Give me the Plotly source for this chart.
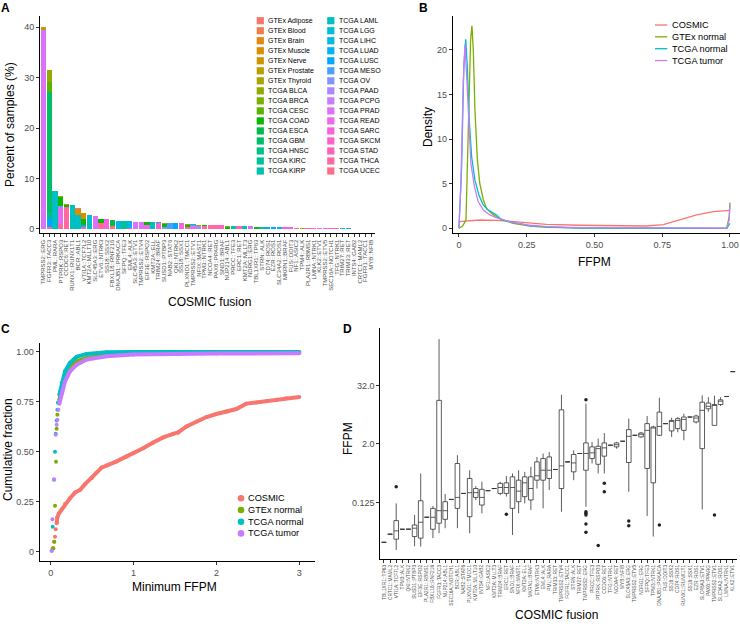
import math
import plotly.graph_objects as go

W, H = 740, 628
FONT = "Liberation Sans, Arial, sans-serif"

# ---------------- Panel A data ----------------
tissues = ["GTEx Adipose", "GTEx Blood", "GTEx Brain", "GTEx Muscle", "GTEx Nerve", "GTEx Prostate",
           "GTEx Thyroid", "TCGA BLCA", "TCGA BRCA", "TCGA CESC", "TCGA COAD", "TCGA ESCA", "TCGA GBM",
           "TCGA HNSC", "TCGA KIRC", "TCGA KIRP", "TCGA LAML", "TCGA LGG", "TCGA LIHC", "TCGA LUAD",
           "TCGA LUSC", "TCGA MESO", "TCGA OV", "TCGA PAAD", "TCGA PCPG", "TCGA PRAD", "TCGA READ",
           "TCGA SARC", "TCGA SKCM", "TCGA STAD", "TCGA THCA", "TCGA UCEC"]

a_fusions = ["TMPRSS2::ERG", "FGFR3::TACC3", "PML::RARA", "PTPRK::RSPO3", "CCDC6::RET", "RUNX1::RUNX1T1",
             "BCR::ABL1", "VTI1A::TCF7L2", "KMT2A::MLLT10", "SLC45A3::ERG", "ETV6::NTRK3", "SS18::SSX2",
             "FBXL18::RNF216", "DNAJB1::PRKACA", "SFPQ::TFE3", "EML4::ALK", "SLC45A3::ETV1", "TMPRSS2::ETV4",
             "EIF3E::RSPO2", "KMT2A::ELL", "TRIM24::BRAF", "SUSD1::PTBP3", "NAB2::STAT6", "QKI::NTRK2",
             "SS18::SSX1", "PLXND1::TMCC1", "TMPRSS2::ETV1", "NFIX::MAST1", "TPM3::NTRK1", "NCOA4::RET",
             "PAX8::PPARG", "SND1::BRAF", "NUP214::ABL1", "PRCC::TFE3", "ERC1::RET", "KMT2A::MLLT3",
             "NDRG1::ERG", "TBL1XR1::TP63", "STRN::ALK", "CD74::ROS1", "EZR::ROS1", "SLC34A2::ROS1",
             "MKRN1::BRAF", "FUS::DDIT3", "NF1::ASIC2", "TPM4::ALK", "PLA2R1::RBMS1", "LMNA::NTRK1",
             "KLK2::ETV1", "TMPRSS2::ETV5", "SEC16A::NOTCH1", "TFG::NTRK1", "TRIM27::RET", "TRIM33::RET",
             "INTS4::GAB2", "CRTC1::MAML2", "FGFR1::TACC1", "MYB::NFIB"]

seg_fusion = ["TMPRSS2::ERG", "TMPRSS2::ERG",
              "FGFR3::TACC3", "FGFR3::TACC3", "FGFR3::TACC3", "FGFR3::TACC3", "FGFR3::TACC3", "FGFR3::TACC3", "FGFR3::TACC3",
              "PML::RARA",
              "PTPRK::RSPO3", "PTPRK::RSPO3", "PTPRK::RSPO3", "PTPRK::RSPO3", "PTPRK::RSPO3",
              "CCDC6::RET", "CCDC6::RET", "CCDC6::RET",
              "RUNX1::RUNX1T1",
              "BCR::ABL1", "BCR::ABL1", "BCR::ABL1",
              "VTI1A::TCF7L2", "VTI1A::TCF7L2", "VTI1A::TCF7L2", "VTI1A::TCF7L2",
              "KMT2A::MLLT10", "SLC45A3::ERG",
              "ETV6::NTRK3", "ETV6::NTRK3", "ETV6::NTRK3",
              "SS18::SSX2",
              "FBXL18::RNF216", "FBXL18::RNF216",
              "DNAJB1::PRKACA", "SFPQ::TFE3",
              "EML4::ALK", "EML4::ALK",
              "SLC45A3::ETV1", "TMPRSS2::ETV4",
              "EIF3E::RSPO2", "EIF3E::RSPO2",
              "KMT2A::ELL",
              "TRIM24::BRAF", "TRIM24::BRAF",
              "SUSD1::PTBP3", "SUSD1::PTBP3", "SUSD1::PTBP3",
              "NAB2::STAT6", "QKI::NTRK2", "SS18::SSX1",
              "PLXND1::TMCC1", "PLXND1::TMCC1", "PLXND1::TMCC1", "PLXND1::TMCC1",
              "TMPRSS2::ETV1", "TMPRSS2::ETV1", "TMPRSS2::ETV1",
              "NFIX::MAST1", "NFIX::MAST1",
              "TPM3::NTRK1", "TPM3::NTRK1",
              "NCOA4::RET", "PAX8::PPARG", "SND1::BRAF",
              "NUP214::ABL1", "NUP214::ABL1",
              "PRCC::TFE3", "ERC1::RET", "KMT2A::MLLT3", "NDRG1::ERG", "TBL1XR1::TP63", "STRN::ALK",
              "CD74::ROS1", "EZR::ROS1", "SLC34A2::ROS1", "MKRN1::BRAF", "FUS::DDIT3", "NF1::ASIC2",
              "TPM4::ALK", "PLA2R1::RBMS1", "LMNA::NTRK1", "KLK2::ETV1", "TMPRSS2::ETV5", "SEC16A::NOTCH1",
              "TFG::NTRK1", "TRIM27::RET", "TRIM33::RET", "INTS4::GAB2", "CRTC1::MAML2", "FGFR1::TACC1",
              "MYB::NFIB"]
seg_tissue = ["TCGA PRAD", "GTEx Prostate",
              "TCGA UCEC", "TCGA LUSC", "TCGA HNSC", "TCGA GBM", "TCGA CESC", "TCGA BLCA", "GTEx Thyroid",
              "TCGA LAML",
              "TCGA THCA", "TCGA READ", "TCGA OV", "TCGA COAD", "TCGA BLCA",
              "TCGA THCA", "TCGA COAD", "TCGA BLCA",
              "TCGA LAML",
              "TCGA LAML", "GTEx Muscle", "GTEx Adipose",
              "TCGA STAD", "TCGA LUAD", "TCGA COAD", "GTEx Muscle",
              "TCGA LAML", "TCGA PRAD",
              "TCGA THCA", "TCGA COAD", "TCGA BLCA",
              "TCGA SARC",
              "TCGA UCEC", "TCGA ESCA",
              "TCGA LIHC", "TCGA KIRC",
              "TCGA STAD", "TCGA LUAD",
              "TCGA PRAD", "TCGA PRAD",
              "TCGA READ", "TCGA COAD",
              "TCGA LAML",
              "TCGA SKCM", "TCGA LIHC",
              "TCGA OV", "TCGA COAD", "TCGA BLCA",
              "TCGA MESO", "TCGA LUSC", "TCGA SARC",
              "TCGA THCA", "TCGA COAD", "TCGA BLCA", "GTEx Muscle",
              "TCGA PRAD", "TCGA OV", "TCGA KIRC",
              "TCGA PAAD", "TCGA BLCA",
              "TCGA UCEC", "TCGA COAD",
              "TCGA THCA", "TCGA THCA", "TCGA SKCM",
              "TCGA COAD", "GTEx Thyroid",
              "TCGA KIRP", "TCGA THCA", "TCGA LAML", "TCGA PRAD", "TCGA COAD", "TCGA KIRC",
              "TCGA LUSC", "TCGA LUSC", "TCGA LUAD", "TCGA SKCM", "TCGA SARC", "TCGA UCEC",
              "TCGA BLCA", "TCGA STAD", "TCGA SKCM", "TCGA PRAD", "TCGA PRAD", "TCGA SARC",
              "TCGA THCA", "TCGA LIHC", "TCGA LUAD", "TCGA KIRP", "TCGA LUAD", "TCGA OV",
              "TCGA HNSC"]
seg_value = [39.4, 0.6,
             0.3, 1.9, 1.2, 23.8, 2.0, 2.1, 0.2,
             7.5,
             1.0, 3.2, 0.3, 1.8, 0.2,
             4.4, 0.35, 0.15,
             4.7,
             2.75, 1.2, 0.15,
             0.45, 0.35, 1.1, 1.2,
             2.7, 2.55,
             1.15, 0.8, 0.1,
             1.9,
             0.5, 1.2,
             1.65, 1.65,
             0.2, 1.3,
             1.45, 1.45,
             0.8, 0.5,
             1.35,
             1.2, 0.15,
             0.35, 0.55, 0.2,
             1.15, 1.15, 1.1,
             0.45, 0.3, 0.2, 0.1,
             0.65, 0.2, 0.1,
             0.6, 0.2,
             0.6, 0.1,
             0.7, 0.7, 0.7,
             0.45, 0.2,
             0.6, 0.55, 0.55, 0.5, 0.45, 0.45,
             0.35, 0.35, 0.33, 0.3, 0.3, 0.25,
             0.22, 0.2, 0.18, 0.18, 0.15, 0.15,
             0.13, 0.12, 0.1, 0.09, 0.08, 0.07,
             0.06]

# ---------------- Panel B data (density) ----------------
groups = ["COSMIC", "GTEx normal", "TCGA normal", "TCGA tumor"]
b_cosmic_x = [0.0, 0.077, 0.139, 0.2, 0.262, 0.323, 0.446, 0.57, 0.69, 0.754, 0.815, 0.877, 0.938, 1.0]
b_cosmic_y = [0.75, 0.93, 0.9, 0.75, 0.56, 0.45, 0.34, 0.26, 0.26, 0.41, 0.93, 1.5, 1.87, 2.02]
b_gtex_x = [0.0, 0.0135, 0.026, 0.034, 0.043, 0.048, 0.053, 0.059, 0.068, 0.077, 0.09, 0.102, 0.12,
            0.139, 0.164, 0.2, 0.262, 0.323, 0.446, 0.69, 0.988, 0.997, 1.0]
b_gtex_y = [0.0, 0.26, 0.93, 10.6, 21.1, 22.7, 20.0, 13.3, 7.7, 5.0, 3.2, 2.2, 1.7,
            1.3, 0.93, 0.56, 0.26, 0.11, 0.04, 0.01, 0.0, 1.3, 2.9]
b_tnorm_x = [0.0, 0.01, 0.018, 0.025, 0.031, 0.038, 0.047, 0.059, 0.074, 0.09, 0.108, 0.127, 0.139,
             0.157, 0.2, 0.262, 0.323, 0.446, 0.988, 1.0]
b_tnorm_y = [0.0, 6.9, 18.1, 21.2, 18.1, 12.1, 8.0, 5.4, 3.7, 2.6, 2.05, 1.76, 1.5,
             0.93, 0.64, 0.3, 0.15, 0.02, 0.0, 0.55]
b_tumor_x = [0.0, 0.007, 0.016, 0.022, 0.028, 0.036, 0.044, 0.057, 0.071, 0.09, 0.114, 0.145, 0.2,
             0.262, 0.323, 0.446, 0.69, 0.988, 0.997, 1.0]
b_tumor_y = [0.0, 4.7, 16.3, 20.6, 17.4, 11.4, 7.3, 4.7, 3.0, 2.05, 1.5, 1.12, 0.64,
             0.34, 0.19, 0.07, 0.04, 0.02, 0.93, 2.6]

# ---------------- Panel C data (cumulative fraction) ----------------
c_cosmic_sparse_x = [0.024, 0.04, 0.052, 0.06]
c_cosmic_sparse_y = [0.017, 0.05, 0.075, 0.112]
c_cosmic_x = [0.072, 0.08, 0.1, 0.133, 0.173, 0.233, 0.293, 0.353, 0.414, 0.494, 0.554, 0.614, 0.675,
              0.795, 0.916, 1.0, 1.116, 1.237, 1.357, 1.478, 1.538, 1.639, 1.759, 1.88, 2.0, 2.12,
              2.241, 2.361, 2.482, 2.602, 2.723, 2.843, 3.0]
c_cosmic_y = [0.142, 0.172, 0.192, 0.212, 0.239, 0.268, 0.296, 0.309, 0.338, 0.368, 0.396, 0.421, 0.431,
              0.452, 0.477, 0.493, 0.518, 0.547, 0.572, 0.59, 0.597, 0.627, 0.652, 0.674, 0.689, 0.702,
              0.714, 0.741, 0.747, 0.753, 0.761, 0.768, 0.774]
c_gtex_sparse_x = [0.032, 0.044, 0.052, 0.064, 0.072, 0.08, 0.092]
c_gtex_sparse_y = [0.017, 0.05, 0.23, 0.45, 0.615, 0.685, 0.744]
c_gtex_x = [0.104, 0.133, 0.173, 0.233, 0.313, 0.434, 0.675, 1.0, 1.4, 2.0, 3.0]
c_gtex_y = [0.76, 0.825, 0.887, 0.928, 0.953, 0.97, 0.983, 0.992, 0.995, 0.998, 1.0]
c_tnorm_sparse_x = [0.012, 0.024, 0.04, 0.052, 0.06, 0.072, 0.08, 0.088]
c_tnorm_sparse_y = [0.005, 0.125, 0.36, 0.5, 0.59, 0.657, 0.71, 0.747]
c_tnorm_x = [0.104, 0.133, 0.173, 0.233, 0.313, 0.434, 0.675, 1.0, 3.0]
c_tnorm_y = [0.786, 0.845, 0.903, 0.945, 0.975, 0.99, 0.998, 1.0, 1.0]
c_tumor_sparse_x = [0.012, 0.02, 0.04, 0.06, 0.072, 0.08, 0.092]
c_tumor_sparse_y = [0.005, 0.162, 0.363, 0.585, 0.635, 0.66, 0.71]
c_tumor_x = [0.104, 0.133, 0.173, 0.233, 0.313, 0.434, 0.675, 1.0, 1.4, 2.0, 3.0]
c_tumor_y = [0.74, 0.794, 0.853, 0.903, 0.936, 0.962, 0.978, 0.987, 0.99, 0.992, 0.993]

# ---------------- Panel D data (FFPM box statistics) ----------------
d_fusions = ["TBL1XR1::TP63", "CRTC1::MAML2", "VTI1A::TCF7L2", "TPM3::ALK", "QKI::NTRK2", "SUSD1::PTBP3",
             "EIF3E::RSPO2", "PLA2R1::RBMS1", "FBXL18::RNF216", "FGFR3::TACC3", "NUP214::ABL1",
             "SEC16A::NOTCH1", "BCR::ABL1", "NAB2::STAT6", "PLXND1::TMCC1", "KMT2A::MLLT10", "INTS4::GAB2",
             "NF1::ASIC2", "KMT2A::MLLT3", "TRIM24::BRAF", "ERC1::RET", "SND1::BRAF", "NFIX::MAST1",
             "KMT2A::ELL", "MKRN1::BRAF", "ETV6::NTRK3", "EML4::ALK", "PML::RARA", "TRIM33::RET",
             "TMPRSS2::ETV4", "FGFR1::TACC1", "STRN::ALK", "TRIM27::RET", "TMPRSS2::ERG", "PRCC::TFE3",
             "PTPRK::RSPO3", "CCDC6::RET", "TFG::NTRK1", "NCOA4::RET", "MYB::NFIB", "SLC45A3::ERG",
             "TMPRSS2::ETV5", "NDRG1::ERG", "SFPQ::TFE3", "TPM3::NTRK1", "DNAJB1::PRKACA", "FUS::DDIT3",
             "SS18::SSX2", "CD74::ROS1", "RUNX1::RUNX1T1", "SS18::SSX1", "EZR::ROS1", "SLC45A3::ETV1",
             "PAX8::PPARG", "TMPRSS2::ETV1", "SLC34A2::ROS1", "LMNA::NTRK1", "KLK2::ETV1"]
d_low = [0.0188, 0.0276, 0.0131, 0.0349, 0.035, 0.0156, 0.0154, 0.0617, 0.0229, 0.0289, 0.0367,
         0.1436, 0.0367, 0.191, 0.0289, 0.14, 0.0743, 0.218, 0.241, 0.177, 0.165, 0.0266, 0.0743,
         0.119, 0.0872, 0.241, 0.094, 0.224, 0.595, 0.080, 0.853, 0.358, 1.27, 0.1015, 0.79,
         0.493, 0.493, 1.88, 1.6, 2.27, 0.207, 3.01, 2.69, 0.0656, 0.0247, 2.9, 5.24,
         2.79, 3.48, 2.38, 7.16, 5.28, 0.0897, 9.19, 4.82, 12.1, 19.0, 61.8]
d_q1 = [0.0188, 0.0276, 0.0218, 0.0349, 0.035, 0.0247, 0.0229, 0.0617, 0.0349, 0.0464, 0.0559,
        0.1436, 0.094, 0.191, 0.0634, 0.158, 0.11, 0.218, 0.241, 0.191, 0.191, 0.094, 0.129,
        0.164, 0.14, 0.358, 0.358, 0.389, 0.595, 0.241, 0.853, 0.532, 1.27, 0.574, 1.0,
        0.763, 1.12, 1.88, 1.74, 2.27, 0.829, 3.01, 2.79, 0.624, 0.316, 3.01, 5.24,
        3.71, 4.14, 3.81, 7.16, 5.66, 1.6, 10.6, 4.82, 13.0, 19.0, 61.8]
d_median = [0.0188, 0.0276, 0.0324, 0.0349, 0.035, 0.0367, 0.0487, 0.0617, 0.0617, 0.0842, 0.0842,
            0.1436, 0.158, 0.191, 0.198, 0.198, 0.158, 0.218, 0.241, 0.253, 0.253, 0.253, 0.213,
            0.316, 0.241, 0.441, 0.574, 0.574, 0.595, 0.707, 0.853, 0.812, 1.27, 1.27, 1.31,
            1.6, 1.66, 1.88, 1.93, 2.27, 2.87, 3.01, 3.16, 3.81, 4.26, 4.59, 5.24,
            5.94, 6.1, 6.41, 7.16, 6.82, 9.85, 11.9, 12.8, 15.2, 19.0, 61.8]
d_q3 = [0.0188, 0.0276, 0.0526, 0.0349, 0.035, 0.0427, 0.135, 0.0617, 0.094, 15.8, 0.129,
        0.1436, 0.79, 0.191, 0.389, 0.241, 0.232, 0.218, 0.241, 0.308, 0.316, 0.42, 0.358,
        0.42, 0.42, 0.853, 1.0, 1.08, 0.595, 10.1, 0.853, 1.21, 1.27, 2.1, 1.74,
        1.79, 2.1, 1.88, 2.1, 2.27, 3.94, 3.01, 3.36, 5.24, 4.47, 9.06, 5.24,
        6.1, 6.63, 7.16, 7.16, 7.52, 14.5, 13.9, 13.0, 16.2, 19.0, 61.8]
d_up = [0.0188, 0.0276, 0.119, 0.0349, 0.035, 0.0688, 0.493, 0.0617, 0.105, 290.0, 0.186,
        0.1436, 1.17, 0.191, 0.574, 0.27, 0.332, 0.218, 0.241, 0.332, 0.435, 0.493, 0.574,
        0.532, 0.674, 1.08, 1.27, 1.37, 0.595, 20.5, 0.853, 1.48, 1.27, 13.5, 2.2,
        2.57, 3.36, 1.88, 2.2, 2.27, 6.63, 3.01, 3.53, 7.52, 4.76, 17.9, 5.24,
        6.96, 7.16, 8.4, 7.16, 8.0, 20.0, 18.4, 19.7, 18.4, 19.0, 61.8]
d_out_fusion = ["VTI1A::TCF7L2", "ERC1::RET", "TMPRSS2::ERG", "TMPRSS2::ERG", "TMPRSS2::ERG",
                "TMPRSS2::ERG", "TMPRSS2::ERG", "TMPRSS2::ERG", "PTPRK::RSPO3", "CCDC6::RET", "CCDC6::RET",
                "SLC45A3::ERG", "SLC45A3::ERG", "DNAJB1::PRKACA", "TMPRSS2::ETV1"]
d_out_value = [0.262, 0.0708, 16.2, 0.080, 0.0743, 0.0688, 0.0448, 0.0302, 0.0162, 0.308, 0.207,
               0.0518, 0.041, 0.0427, 0.0688]


# ---------------- helpers ----------------
def hue_color(h, c=100.0, l=65.0):
    """ggplot2 default hue palette colour (polar CIE-Luv -> sRGB)."""
    hr = math.radians(h)
    U, V = c * math.cos(hr), c * math.sin(hr)
    Xn, Yn, Zn = 95.047, 100.0, 108.883
    Y = Yn * ((l + 16) / 116) ** 3 if l > 8 else Yn * l / 903.3
    den = Xn + 15 * Yn + 3 * Zn
    un, vn = 4 * Xn / den, 9 * Yn / den
    u = U / (13 * l) + un
    v = V / (13 * l) + vn
    X = 9.0 * Y * u / (4 * v)
    Z = -X / 3 - 5 * Y + 3 * Y / v
    r = (3.240479 * X - 1.537150 * Y - 0.498535 * Z) / Yn
    g = (-0.969256 * X + 1.875992 * Y + 0.041556 * Z) / Yn
    b = (0.055648 * X - 0.204043 * Y + 1.057311 * Z) / Yn

    def gt(t):
        t = 1.055 * t ** (1 / 2.4) - 0.055 if t > 0.00304 else 12.92 * t
        return max(0, min(255, int(round(t * 255))))
    return "#%02X%02X%02X" % (gt(r), gt(g), gt(b))


def hue_pal(n):
    return [hue_color(15 + 360.0 * i / n) for i in range(n)]


def PX(p):
    return p / W


def PY(p):
    return 1 - p / H


tissue_cols = dict(zip(tissues, hue_pal(len(tissues))))
group_cols = dict(zip(groups, hue_pal(len(groups))))

fig = go.Figure()

# ---------------- Panel A: stacked bars ----------------
for t in reversed(tissues):
    vals = [0.0] * len(a_fusions)
    for f, tt, v in zip(seg_fusion, seg_tissue, seg_value):
        if tt == t:
            vals[a_fusions.index(f)] += v
    fig.add_trace(go.Bar(x=a_fusions, y=vals, name=t, marker=dict(color=tissue_cols[t], line=dict(width=0)),
                         xaxis="x", yaxis="y", showlegend=False))

# ---------------- Panel B: densities ----------------
for g, xs, ys in [("COSMIC", b_cosmic_x, b_cosmic_y), ("GTEx normal", b_gtex_x, b_gtex_y),
                  ("TCGA normal", b_tnorm_x, b_tnorm_y), ("TCGA tumor", b_tumor_x, b_tumor_y)]:
    fig.add_trace(go.Scatter(x=xs, y=ys, mode="lines", line=dict(color=group_cols[g], width=1.3),
                             xaxis="x2", yaxis="y2", showlegend=False))

# ---------------- Panel C: cumulative fraction ----------------
for g, sx, sy, xs, ys in [("COSMIC", c_cosmic_sparse_x, c_cosmic_sparse_y, c_cosmic_x, c_cosmic_y),
                          ("GTEx normal", c_gtex_sparse_x, c_gtex_sparse_y, c_gtex_x, c_gtex_y),
                          ("TCGA normal", c_tnorm_sparse_x, c_tnorm_sparse_y, c_tnorm_x, c_tnorm_y),
                          ("TCGA tumor", c_tumor_sparse_x, c_tumor_sparse_y, c_tumor_x, c_tumor_y)]:
    col = group_cols[g]
    fig.add_trace(go.Scatter(x=xs, y=ys, mode="lines+markers", line=dict(color=col, width=4),
                             marker=dict(color=col, size=4), xaxis="x3", yaxis="y3", showlegend=False))
    fig.add_trace(go.Scatter(x=sx, y=sy, mode="markers", marker=dict(color=col, size=4),
                             xaxis="x3", yaxis="y3", showlegend=False))

# ---------------- Panel D: boxplots ----------------
fig.add_trace(go.Box(x=d_fusions, q1=d_q1, median=d_median, q3=d_q3, lowerfence=d_low, upperfence=d_up,
                     xaxis="x4", yaxis="y4", fillcolor="white", line=dict(color="#333333", width=0.8),
                     whiskerwidth=0, width=0.75, boxpoints=False, showlegend=False))
fig.add_trace(go.Scatter(x=d_out_fusion, y=d_out_value, mode="markers",
                         marker=dict(color="#222222", size=3.5), xaxis="x4", yaxis="y4", showlegend=False))

# ---------------- axes ----------------
common = dict(showgrid=False, zeroline=False, showline=True, linecolor="black", linewidth=1,
              ticks="outside", ticklen=3, tickwidth=1, tickcolor="#333333",
              tickfont=dict(size=9, color="#4D4D4D", family=FONT), fixedrange=True)

fig.update_layout(
    width=W, height=H, margin=dict(l=0, r=0, t=0, b=0),
    paper_bgcolor="white", plot_bgcolor="white", showlegend=False,
    barmode="stack", bargap=0.1, font=dict(family=FONT, color="black"),
    xaxis=dict(common, domain=[PX(40), PX(374.7)], type="category", categoryorder="array",
               categoryarray=a_fusions, range=[-0.6, 57.6], tickangle=-90,
               tickmode="array", tickvals=a_fusions, ticktext=a_fusions,
               tickfont=dict(size=6.0, color="#4D4D4D", family=FONT), anchor="y"),
    yaxis=dict(common, domain=[PY(233.3), PY(16)], range=[-0.86, 42.2], tickvals=[0, 10, 20, 30, 40],
               anchor="x"),
    xaxis2=dict(common, domain=[PX(452.7), PX(740)], range=[-0.023, 1.037],
                tickvals=[0, 0.25, 0.5, 0.75, 1.0], ticktext=["0", "0.25", "0.50", "0.75", "1.00"],
                anchor="y2"),
    yaxis2=dict(common, domain=[PY(233.3), PY(16)], range=[-0.56, 23.8], tickvals=[0, 5, 10, 15, 20],
                anchor="x2"),
    xaxis3=dict(common, domain=[PX(39.7), PX(315)], range=[-0.133, 3.19], tickvals=[0, 1, 2, 3],
                anchor="y3"),
    yaxis3=dict(common, domain=[PY(560.7), PY(342.7)], range=[-0.045, 1.046],
                tickvals=[0, 0.25, 0.5, 0.75, 1.0], ticktext=["0", "0.25", "0.50", "0.75", "1.00"],
                anchor="x3"),
    xaxis4=dict(common, domain=[PX(380.3), PX(736.5)], type="category", categoryorder="array",
                categoryarray=d_fusions, range=[-0.6, 57.6], tickangle=-90,
                tickmode="array", tickvals=d_fusions, ticktext=d_fusions,
                tickfont=dict(size=4.8, color="#4D4D4D", family=FONT), anchor="y4"),
    yaxis4=dict(common, domain=[PY(559), PY(328)], type="log", range=[-2.07, 2.69],
                tickvals=[0.125, 2, 32], ticktext=["0.125", "2.0", "32.0"], anchor="x4"),
)

ann = []
shapes = []


def text(x, y, s, size, angle=0, bold=False, anchor="center"):
    ann.append(dict(x=PX(x), y=PY(y), xref="paper", yref="paper", text=("<b>%s</b>" % s) if bold else s,
                    showarrow=False, textangle=angle, xanchor=anchor, yanchor="middle", borderpad=0,
                    font=dict(size=size, family=FONT, color="black")))


# panel letters
text(5, 8, "A", 12, bold=True)
text(423, 8, "B", 12, bold=True)
text(5, 329, "C", 12, bold=True)
text(347.5, 329, "D", 12, bold=True)

# axis titles
text(10, 125, "Percent of samples (%)", 12, angle=-90)
text(209, 302, "COSMIC fusion", 12)
text(428, 127, "Density", 12, angle=-90)
text(594, 262, "FFPM", 12)
text(8, 450, "Cumulative fraction", 12, angle=-90)
text(174.5, 587, "Minimum FFPM", 12)
text(348, 439, "FFPM", 12, angle=-90)
text(556, 615, "COSMIC fusion", 12)

# legend A (two columns of 16)
for i, t in enumerate(tissues):
    col, row = divmod(i, 16)
    cy = 20.7 + 10.02 * row
    kx = 260.3 if col == 0 else 330.8
    tx = 266.5 if col == 0 else 337.5
    shapes.append(dict(type="rect", xref="paper", yref="paper", x0=PX(kx - 3.6), x1=PX(kx + 3.6),
                       y0=PY(cy + 3.6), y1=PY(cy - 3.6), fillcolor=tissue_cols[t], line=dict(width=0)))
    text(tx, cy, t, 7, anchor="left")

# legend B (lines)
for i, g in enumerate(groups):
    cy = 25 + 11.85 * i
    shapes.append(dict(type="line", xref="paper", yref="paper", x0=PX(655), x1=PX(667.3),
                       y0=PY(cy), y1=PY(cy), line=dict(color=group_cols[g], width=1.3)))
    text(671, cy, g, 9.2, anchor="left")

# legend C (points)
for i, g in enumerate(groups):
    cy = 498.3 + 11.7 * i
    shapes.append(dict(type="circle", xref="paper", yref="paper", x0=PX(241 - 3.3), x1=PX(241 + 3.3),
                       y0=PY(cy + 3.3), y1=PY(cy - 3.3), fillcolor=group_cols[g], line=dict(width=0)))
    text(247, cy, g, 9.2, anchor="left")

fig.update_layout(annotations=ann, shapes=shapes)
fig.write_html("out.html", config={"displayModeBar": False, "staticPlot": True},
               post_script="document.body.style.margin='0';document.body.style.padding='0';"
                           "document.documentElement.style.overflow='hidden';")
